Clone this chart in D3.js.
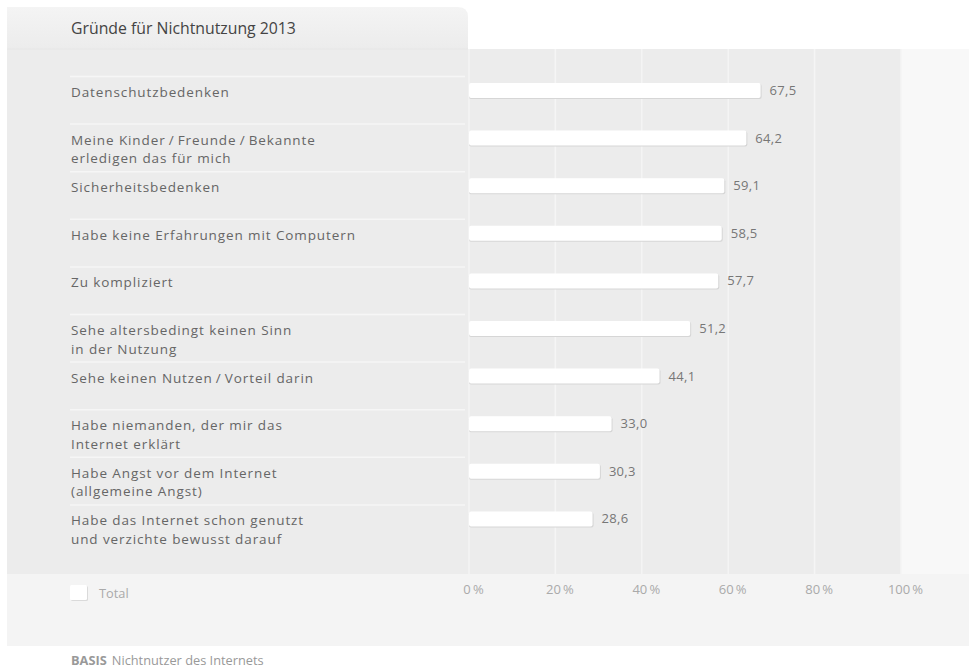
<!DOCTYPE html>
<html>
<head>
<meta charset="utf-8">
<script src="https://cdn.jsdelivr.net/npm/d3@7"></script>
<style>
  html, body { margin: 0; padding: 0; background: #ffffff; }
  svg { display: block; }
  text { font-family: "Open Sans", "Noto Sans", sans-serif; }
</style>
</head>
<body>
<svg id="chart" width="969" height="671"></svg>
<script>
// ---- data ----
const title = "Gründe für Nichtnutzung 2013";
const categories = [
  ["Datenschutzbedenken"],
  ["Meine Kinder\u2009/\u2009Freunde\u2009/\u2009Bekannte", "erledigen das für mich"],
  ["Sicherheitsbedenken"],
  ["Habe keine Erfahrungen mit Computern"],
  ["Zu kompliziert"],
  ["Sehe altersbedingt keinen Sinn", "in der Nutzung"],
  ["Sehe keinen Nutzen\u2009/\u2009Vorteil darin"],
  ["Habe niemanden, der mir das", "Internet erklärt"],
  ["Habe Angst vor dem Internet", "(allgemeine Angst)"],
  ["Habe das Internet schon genutzt", "und verzichte bewusst darauf"]
];
const values = [67.5, 64.2, 59.1, 58.5, 57.7, 51.2, 44.1, 33.0, 30.3, 28.6];
const tickValues = [0, 20, 40, 60, 80, 100];
const tickLabels = ["0\u2009%", "20\u2009%", "40\u2009%", "60\u2009%", "80\u2009%", "100\u2009%"];
const seriesName = "Total";
const basisLabel = "BASIS";
const basisText = "Nichtnutzer des Internets";

// ---- layout ----
const svg = d3.select("#chart");
const panelLeft = 7, panelTop = 49, chartBottom = 574, legendBottom = 646;
const x = d3.scaleLinear().domain([0, 100]).range([469, 901]);
const idx = d3.range(categories.length);
const y = d3.scaleBand().domain(idx).range([76, 552]).paddingInner(0).paddingOuter(0);

const defs = svg.append("defs");
const tabGrad = defs.append("linearGradient").attr("id", "tabGrad").attr("x1", 0).attr("y1", 0).attr("x2", 0).attr("y2", 1);
tabGrad.append("stop").attr("offset", "0%").attr("stop-color", "#f4f4f4");
tabGrad.append("stop").attr("offset", "100%").attr("stop-color", "#ececec");

// right light area
svg.append("rect").attr("x", x(100)).attr("y", panelTop).attr("width", 969 - x(100)).attr("height", legendBottom - panelTop).attr("fill", "#f8f8f8");
// chart area
svg.append("rect").attr("x", panelLeft).attr("y", panelTop).attr("width", x(100) - panelLeft).attr("height", chartBottom - panelTop).attr("fill", "#ececec");
// legend area
svg.append("rect").attr("x", panelLeft).attr("y", chartBottom).attr("width", 969 - panelLeft).attr("height", legendBottom - chartBottom).attr("fill", "#f4f4f4");

// title tab
const tabRight = 468, tabTop = 7, r = 10;
svg.append("path")
  .attr("d", `M${panelLeft},${panelTop} L${panelLeft},${tabTop} L${tabRight - r},${tabTop} Q${tabRight},${tabTop} ${tabRight},${tabTop + r} L${tabRight},${panelTop} Z`)
  .attr("fill", "url(#tabGrad)");
svg.append("line").attr("x1", panelLeft).attr("x2", tabRight).attr("y1", panelTop).attr("y2", panelTop).attr("stroke", "#e6e6e6").attr("stroke-width", 1);
svg.append("text").attr("x", 71).attr("y", 34).attr("fill", "#444").attr("font-size", 15.8).text(title);

// vertical gridlines
svg.append("g").selectAll("line").data(tickValues).join("line")
  .attr("x1", d => x(d)).attr("x2", d => x(d))
  .attr("y1", panelTop).attr("y2", chartBottom)
  .attr("stroke", "#f5f5f5").attr("stroke-width", 1.5);

// row separators
svg.append("g").selectAll("line").data(idx).join("line")
  .attr("x1", 70).attr("x2", 465)
  .attr("y1", d => y(d) + 0.5).attr("y2", d => y(d) + 0.5)
  .attr("stroke", "#f6f6f6").attr("stroke-width", 1.5);

// row labels
const lab = svg.append("g").selectAll("text").data(idx).join("text")
  .attr("x", 71).attr("y", d => y(d) + 21)
  .attr("fill", "#666").attr("font-size", 13.5).attr("letter-spacing", 0.9);
lab.each(function (d) {
  const t = d3.select(this);
  categories[d].forEach((line, i) => {
    t.append("tspan").attr("x", 71).attr("dy", i === 0 ? 0 : 18.5).text(line);
  });
});

// bars
const barH = 15, barOff = 7;
const bars = svg.append("g");
bars.selectAll("rect.sh").data(idx).join("rect").attr("class", "sh")
  .attr("x", x(0)).attr("y", d => y(d) + barOff + 1)
  .attr("width", d => x(values[d]) - x(0) + 1).attr("height", barH)
  .attr("rx", 2).attr("fill", "#d6d6d6");
bars.selectAll("rect.bar").data(idx).join("rect").attr("class", "bar")
  .attr("x", x(0)).attr("y", d => y(d) + barOff)
  .attr("width", d => x(values[d]) - x(0)).attr("height", barH)
  .attr("rx", 2).attr("fill", "#ffffff");

// value labels
const fmt = v => d3.format(".1f")(v).replace(".", ",");
svg.append("g").selectAll("text").data(idx).join("text")
  .attr("x", d => x(values[d]) + 9).attr("y", d => y(d) + barOff + barH / 2 + 4.5)
  .attr("fill", "#777").attr("font-size", 13).attr("letter-spacing", 0.3).text(d => fmt(values[d]));

// x axis tick labels
const axis = d3.axisBottom(x).tickValues(tickValues).tickSize(0).tickPadding(0)
  .tickFormat((d, i) => tickLabels[i]);
const ax = svg.append("g").attr("transform", `translate(4,${chartBottom + 11})`).call(axis);
ax.select(".domain").remove();
ax.selectAll("text").attr("fill", "#aaa").attr("font-size", 13)
  .attr("font-family", "\"Open Sans\", sans-serif");

// legend
svg.append("rect").attr("x", 71).attr("y", 586).attr("width", 17).attr("height", 15).attr("rx", 1.5).attr("fill", "#dadada");
svg.append("rect").attr("x", 70).attr("y", 585).attr("width", 17).attr("height", 15).attr("rx", 1.5).attr("fill", "#ffffff");
svg.append("text").attr("x", 99).attr("y", 598).attr("fill", "#aaa").attr("font-size", 12.8).text(seriesName);

// basis note
const b = svg.append("text").attr("x", 71).attr("y", 665).attr("fill", "#999").attr("font-size", 12.8);
b.append("tspan").attr("font-weight", "bold").text(basisLabel);
b.append("tspan").attr("dx", 5).text(basisText);
</script>
</body>
</html>
